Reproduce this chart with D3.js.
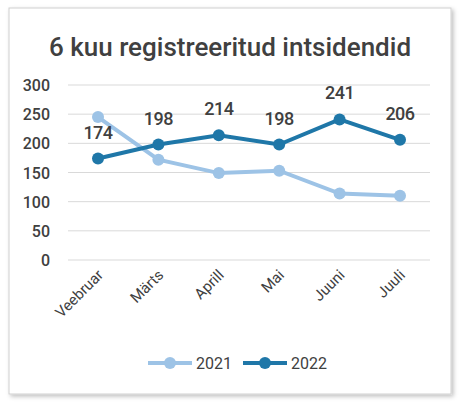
<!DOCTYPE html>
<html><head><meta charset="utf-8">
<script src="https://cdn.jsdelivr.net/npm/d3@7"></script>
<style>
body{margin:0;background:#fff;font-family:Roboto,"Liberation Sans",sans-serif;}
</style></head><body>
<div id="chart"></div>
<script>
const categories = ["Veebruar", "Märts", "Aprill", "Mai", "Juuni", "Juuli"];
const values2021 = [245, 172, 149, 153, 114, 110];
const values2022 = [174, 198, 214, 198, 241, 206];
const yTicks = [0, 50, 100, 150, 200, 250, 300];
const seriesNames = ["2021", "2022"];
const colours = ["#9dc3e6", "#1f77a8"];

const W = 463, H = 405;
const svg = d3.select("#chart").append("svg").attr("width", W).attr("height", H);

const defs = svg.append("defs");
const f = defs.append("filter").attr("id", "sh").attr("x", "-5%").attr("y", "-5%").attr("width", "110%").attr("height", "110%");
f.append("feDropShadow").attr("dx", 2).attr("dy", 2).attr("stdDeviation", 2).attr("flood-color", "#000").attr("flood-opacity", 0.25);

svg.append("rect").attr("x", 9).attr("y", 8).attr("width", 442).attr("height", 386)
  .attr("fill", "#fff").attr("stroke", "#d0d0d0").attr("filter", "url(#sh)");

svg.append("text").attr("x", 230).attr("y", 56).attr("text-anchor", "middle")
  .attr("font-size", 26).attr("font-weight", 500).attr("fill", "#404040")
  .text("6 kuu registreeritud intsidendid");

const x = d3.scalePoint().domain(categories).range([98, 400]);
const y = d3.scaleLinear().domain([0, 300]).range([260, 85]);

const g = svg.append("g");
g.append("g").selectAll("line").data(yTicks).join("line")
  .attr("x1", 68).attr("x2", 430).attr("y1", d => y(d)).attr("y2", d => y(d))
  .attr("stroke", "#d9d9d9").attr("stroke-width", 1);

g.append("g").selectAll("text").data(yTicks).join("text")
  .attr("x", 50).attr("y", d => y(d) + 6).attr("text-anchor", "end")
  .attr("font-size", 16).attr("font-weight", 500).attr("fill", "#404040").text(d => d);

g.append("g").selectAll("text").data(categories).join("text")
  .attr("transform", d => `translate(${x(d) + 6},${276}) rotate(-45)`)
  .attr("text-anchor", "end").attr("font-size", 15).attr("fill", "#404040").text(d => d);

const line = d3.line().x((d, i) => x(categories[i])).y(d => y(d));
[values2021, values2022].forEach((vals, k) => {
  g.append("path").datum(vals).attr("d", line).attr("fill", "none")
    .attr("stroke", colours[k]).attr("stroke-width", 4);
  g.selectAll(null).data(vals).join("circle")
    .attr("cx", (d, i) => x(categories[i])).attr("cy", d => y(d)).attr("r", 6)
    .attr("fill", colours[k]);
});

g.selectAll(null).data(values2022).join("text")
  .attr("x", (d, i) => x(categories[i])).attr("y", d => y(d) - 20)
  .attr("text-anchor", "middle").attr("font-size", 18).attr("font-weight", 500)
  .attr("letter-spacing", -0.5).attr("fill", "#404040")
  .text(d => d);

const leg = svg.append("g");
seriesNames.forEach((s, k) => {
  const lx = 148 + k * 95;
  leg.append("line").attr("x1", lx).attr("x2", lx + 44).attr("y1", 363).attr("y2", 363)
    .attr("stroke", colours[k]).attr("stroke-width", 4);
  leg.append("circle").attr("cx", lx + 22).attr("cy", 363).attr("r", 6).attr("fill", colours[k]);
  leg.append("text").attr("x", lx + 48).attr("y", 369).attr("font-size", 16).attr("fill", "#404040").text(s);
});
</script></body></html>
